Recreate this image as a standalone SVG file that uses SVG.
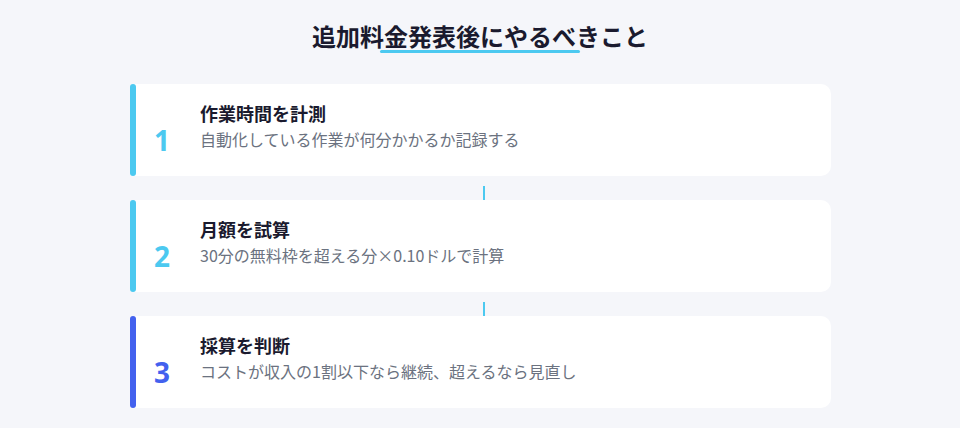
<svg xmlns="http://www.w3.org/2000/svg" width="960" height="428" viewBox="0 0 960 428">
<defs>
<style>
.bg{fill:#f5f6fa}
.card{fill:#ffffff}
.h{font-family:"Noto Sans CJK JP","Noto Sans",sans-serif;font-weight:700;fill:#1a1a2e}
.t{font-family:"Noto Sans CJK JP","Noto Sans",sans-serif;font-weight:700;font-size:18px;fill:#1a1a2e}
.s{font-family:"Noto Sans CJK JP","Noto Sans",sans-serif;font-size:16px;fill:#6b7280}
.n{font-family:"Noto Sans","Noto Sans CJK JP",sans-serif;font-weight:700;font-size:28px;text-anchor:middle}
.c{stroke:#4cc9f0;stroke-width:2;fill:none}
</style>
<marker id="ah" viewBox="0 0 10 10" refX="5" refY="5" markerWidth="4" markerHeight="4" orient="auto">
<path d="M0,0 L10,5 L0,10 z" fill="#4cc9f0"/>
</marker>
</defs>
<rect class="bg" x="0" y="0" width="960" height="428"/>
<g id="title">
<text class="h" x="480" y="46" font-size="24" text-anchor="middle">追加料金発表後にやるべきこと</text>
<rect x="380" y="50" width="200" height="3" rx="1.5" fill="#4cc9f0"/>
</g>
<g id="connectors">
<line class="c" x1="484" y1="186" x2="484" y2="204" marker-end="url(#ah)"/>
<line class="c" x1="484" y1="302" x2="484" y2="320" marker-end="url(#ah)"/>
</g>
<g id="step1">
<path class="card" d="M134,84 H821 A10,10 0 0 1 831,94 V166 A10,10 0 0 1 821,176 H134 Z"/>
<rect x="130" y="84" width="6" height="92" rx="3" fill="#4cc9f0"/>
<text class="n" x="162" y="151" fill="#4cc9f0">1</text>
<text class="t" x="200" y="121">作業時間を計測</text>
<text class="s" x="200" y="146">自動化している作業が何分かかるか記録する</text>
</g>
<g id="step2">
<path class="card" d="M134,200 H821 A10,10 0 0 1 831,210 V282 A10,10 0 0 1 821,292 H134 Z"/>
<rect x="130" y="200" width="6" height="92" rx="3" fill="#4cc9f0"/>
<text class="n" x="162" y="267" fill="#4cc9f0">2</text>
<text class="t" x="200" y="237">月額を試算</text>
<text class="s" x="200" y="262">30分の無料枠を超える分×0.10ドルで計算</text>
</g>
<g id="step3">
<path class="card" d="M134,316 H821 A10,10 0 0 1 831,326 V398 A10,10 0 0 1 821,408 H134 Z"/>
<rect x="130" y="316" width="6" height="92" rx="3" fill="#4361ee"/>
<text class="n" x="162" y="383" fill="#4361ee">3</text>
<text class="t" x="200" y="353">採算を判断</text>
<text class="s" x="200" y="378">コストが収入の1割以下なら継続、超えるなら見直し</text>
</g>
</svg>
